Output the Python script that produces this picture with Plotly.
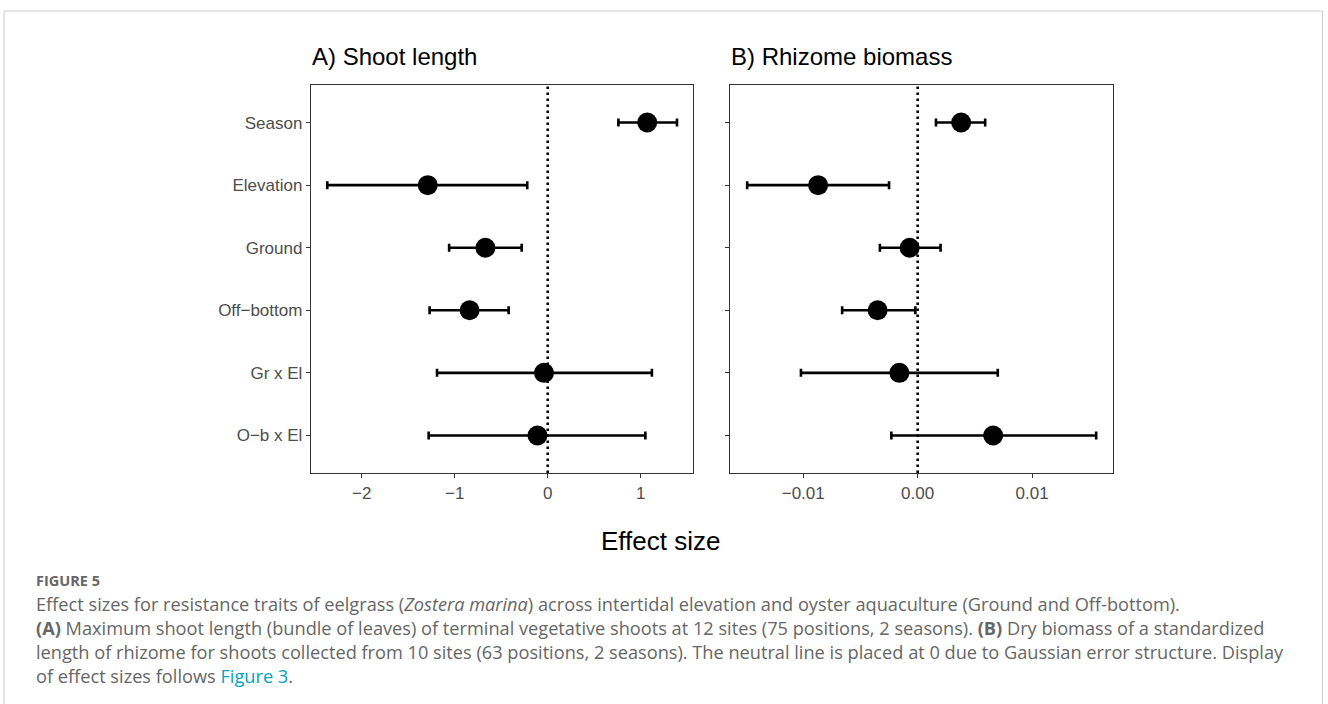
import plotly.graph_objects as go

W, H = 1328, 704

terms = ["Season", "Elevation", "Ground", "Off\u2212bottom", "Gr x El", "O\u2212b x El"]

# Panel A: shoot length
shoot_est = [1.07, -1.29, -0.67, -0.84, -0.04, -0.11]
shoot_lo = [0.76, -2.37, -1.06, -1.27, -1.19, -1.28]
shoot_hi = [1.39, -0.22, -0.28, -0.42, 1.12, 1.05]

# Panel B: rhizome biomass
rhiz_est = [0.0038, -0.0087, -0.0007, -0.0035, -0.0016, 0.0066]
rhiz_lo = [0.0016, -0.0149, -0.0033, -0.0066, -0.0102, -0.0023]
rhiz_hi = [0.0059, -0.0025, 0.0020, -0.0002, 0.0070, 0.0156]

a_ticks = [-2, -1, 0, 1]
a_ticktext = ["\u22122", "\u22121", "0", "1"]
b_ticks = [-0.01, 0.0, 0.01]
b_ticktext = ["\u22120.01", "0.00", "0.01"]


def px_x(p):
    return p / W


def px_y(p):
    return 1 - p / H


fig = go.Figure()

for est, lo, hi, xa, ya in [
    (shoot_est, shoot_lo, shoot_hi, "x", "y"),
    (rhiz_est, rhiz_lo, rhiz_hi, "x2", "y2"),
]:
    fig.add_trace(go.Scatter(
        x=est, y=terms, mode="markers", xaxis=xa, yaxis=ya,
        marker=dict(size=20, color="black"),
        error_x=dict(type="data", symmetric=False,
                     array=[h - e for h, e in zip(hi, est)],
                     arrayminus=[e - l for e, l in zip(est, lo)],
                     color="black", thickness=2.6, width=4),
        showlegend=False, hoverinfo="skip",
    ))

axis_common = dict(
    showline=True, mirror=True, linecolor="#333333", linewidth=1.4,
    ticks="outside", ticklen=4, tickcolor="#333333", tickwidth=1.4,
    showgrid=False, zeroline=False,
    tickfont=dict(family="Liberation Sans, Arial, sans-serif", size=17, color="#4d4d4d"),
)

yA_dom = [px_y(473), px_y(85)]

fig.update_layout(
    width=W, height=H,
    margin=dict(l=0, r=0, t=0, b=0),
    paper_bgcolor="white", plot_bgcolor="white",
    xaxis=dict(domain=[px_x(311), px_x(693)], range=[-2.545, 1.562],
               tickvals=a_ticks, ticktext=a_ticktext, anchor="y", **axis_common),
    yaxis=dict(domain=yA_dom, type="category", categoryorder="array", categoryarray=terms,
               range=[5.6, -0.6], anchor="x", **axis_common),
    xaxis2=dict(domain=[px_x(730), px_x(1113)], range=[-0.0164, 0.01707],
                tickvals=b_ticks, ticktext=b_ticktext, anchor="y2", **axis_common),
    yaxis2=dict(domain=yA_dom, type="category", categoryorder="array", categoryarray=terms,
                range=[5.6, -0.6], anchor="x2", showticklabels=False, **axis_common),
)

# dotted neutral lines at 0
for xr, yr in [("x", "y domain"), ("x2", "y2 domain")]:
    fig.add_shape(type="line", xref=xr, yref=yr, x0=0, x1=0, y0=0, y1=1,
                  line=dict(color="black", width=2.6, dash="2.6px,3.4px"))

# outer border of the figure box
fig.add_shape(type="rect", xref="paper", yref="paper",
              x0=px_x(4), x1=px_x(1322.5), y0=px_y(720), y1=px_y(11),
              line=dict(color="#cccccc", width=1), fillcolor="rgba(0,0,0,0)", layer="below")

title_font = dict(family="Liberation Sans, Arial, sans-serif", size=24, color="black")
fig.add_annotation(text="A) Shoot length", xref="paper", yref="paper",
                   x=px_x(310), y=px_y(56), xanchor="left", yanchor="middle",
                   showarrow=False, font=title_font)
fig.add_annotation(text="B) Rhizome biomass", xref="paper", yref="paper",
                   x=px_x(729), y=px_y(56), xanchor="left", yanchor="middle",
                   showarrow=False, font=title_font)
fig.add_annotation(text="Effect size", xref="paper", yref="paper",
                   x=px_x(660), y=px_y(541), xanchor="center", yanchor="middle",
                   showarrow=False,
                   font=dict(family="Liberation Sans, Arial, sans-serif", size=26, color="black"))

cap_font = dict(family="Open Sans, sans-serif", size=18.2, color="#666666")
fig.add_annotation(text="<b>FIGURE 5</b>", xref="paper", yref="paper",
                   x=px_x(34), y=px_y(580), xanchor="left", yanchor="middle",
                   showarrow=False,
                   font=dict(family="Open Sans, sans-serif", size=14.5, color="#666666"))
caption_lines = [
    "Effect sizes for resistance traits of eelgrass (<i>Zostera marina</i>) across intertidal elevation and oyster aquaculture (Ground and Off-bottom).",
    "<b>(A)</b> Maximum shoot length (bundle of leaves) of terminal vegetative shoots at 12 sites (75 positions, 2 seasons). <b>(B)</b> Dry biomass of a standardized",
    "length of rhizome for shoots collected from 10 sites (63 positions, 2 seasons). The neutral line is placed at 0 due to Gaussian error structure. Display",
    "of effect sizes follows <span style='color:#00a3c4'>Figure 3</span>.",
]
for i, line in enumerate(caption_lines):
    fig.add_annotation(text=line, xref="paper", yref="paper",
                       x=px_x(34), y=px_y(604 + 24 * i), xanchor="left", yanchor="middle",
                       showarrow=False, font=cap_font)

fig.write_html("out.html")
